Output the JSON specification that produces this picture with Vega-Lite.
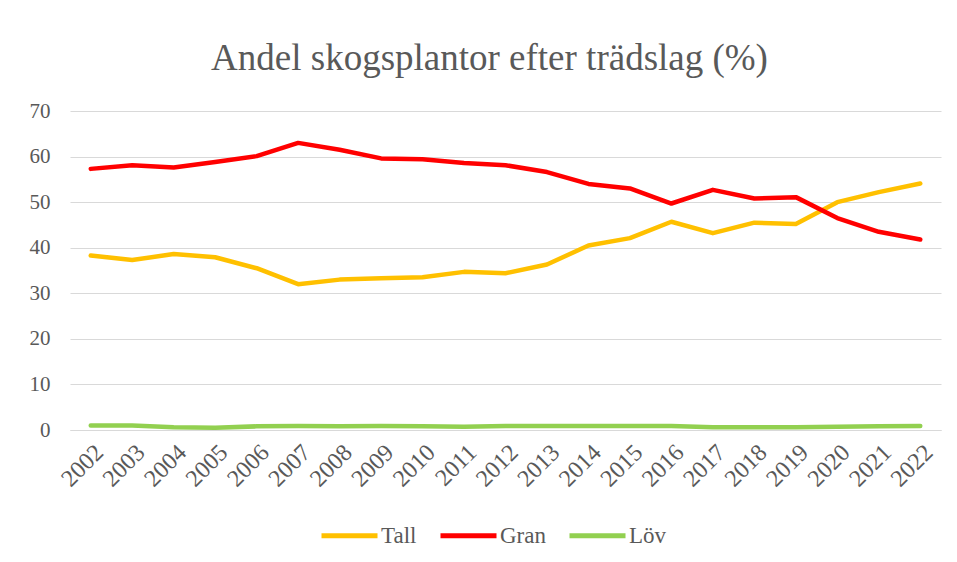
{
  "$schema": "https://vega.github.io/schema/vega-lite/v6.json",
  "width": 871,
  "height": 319,
  "autosize": {"type": "none"},
  "padding": {"left": 70, "top": 111, "right": 16, "bottom": 132},
  "background": "white",
  "title": {
    "text": "Andel skogsplantor efter trädslag (%)",
    "font": "Liberation Serif",
    "fontSize": 37,
    "fontWeight": "normal",
    "color": "#595959",
    "anchor": "middle",
    "offset": 22,
    "dx": -16
  },
  "data": {
    "values": [
      {"year": "2002", "serie": "Tall", "value": 38.3}, {"year": "2003", "serie": "Tall", "value": 37.3}, {"year": "2004", "serie": "Tall", "value": 38.6}, {"year": "2005", "serie": "Tall", "value": 37.9}, {"year": "2006", "serie": "Tall", "value": 35.5}, {"year": "2007", "serie": "Tall", "value": 32.0}, {"year": "2008", "serie": "Tall", "value": 33.0}, {"year": "2009", "serie": "Tall", "value": 33.3}, {"year": "2010", "serie": "Tall", "value": 33.5}, {"year": "2011", "serie": "Tall", "value": 34.7}, {"year": "2012", "serie": "Tall", "value": 34.4}, {"year": "2013", "serie": "Tall", "value": 36.3}, {"year": "2014", "serie": "Tall", "value": 40.5}, {"year": "2015", "serie": "Tall", "value": 42.1}, {"year": "2016", "serie": "Tall", "value": 45.7}, {"year": "2017", "serie": "Tall", "value": 43.2}, {"year": "2018", "serie": "Tall", "value": 45.5}, {"year": "2019", "serie": "Tall", "value": 45.2}, {"year": "2020", "serie": "Tall", "value": 50.0}, {"year": "2021", "serie": "Tall", "value": 52.2}, {"year": "2022", "serie": "Tall", "value": 54.1},
      {"year": "2002", "serie": "Gran", "value": 57.3}, {"year": "2003", "serie": "Gran", "value": 58.1}, {"year": "2004", "serie": "Gran", "value": 57.6}, {"year": "2005", "serie": "Gran", "value": 58.8}, {"year": "2006", "serie": "Gran", "value": 60.1}, {"year": "2007", "serie": "Gran", "value": 63.0}, {"year": "2008", "serie": "Gran", "value": 61.5}, {"year": "2009", "serie": "Gran", "value": 59.6}, {"year": "2010", "serie": "Gran", "value": 59.4}, {"year": "2011", "serie": "Gran", "value": 58.6}, {"year": "2012", "serie": "Gran", "value": 58.1}, {"year": "2013", "serie": "Gran", "value": 56.6}, {"year": "2014", "serie": "Gran", "value": 54.0}, {"year": "2015", "serie": "Gran", "value": 53.0}, {"year": "2016", "serie": "Gran", "value": 49.7}, {"year": "2017", "serie": "Gran", "value": 52.7}, {"year": "2018", "serie": "Gran", "value": 50.8}, {"year": "2019", "serie": "Gran", "value": 51.1}, {"year": "2020", "serie": "Gran", "value": 46.5}, {"year": "2021", "serie": "Gran", "value": 43.5}, {"year": "2022", "serie": "Gran", "value": 41.8},
      {"year": "2002", "serie": "Löv", "value": 1.0}, {"year": "2003", "serie": "Löv", "value": 1.0}, {"year": "2004", "serie": "Löv", "value": 0.6}, {"year": "2005", "serie": "Löv", "value": 0.5}, {"year": "2006", "serie": "Löv", "value": 0.8}, {"year": "2007", "serie": "Löv", "value": 0.9}, {"year": "2008", "serie": "Löv", "value": 0.8}, {"year": "2009", "serie": "Löv", "value": 0.9}, {"year": "2010", "serie": "Löv", "value": 0.8}, {"year": "2011", "serie": "Löv", "value": 0.7}, {"year": "2012", "serie": "Löv", "value": 0.9}, {"year": "2013", "serie": "Löv", "value": 0.9}, {"year": "2014", "serie": "Löv", "value": 0.9}, {"year": "2015", "serie": "Löv", "value": 0.9}, {"year": "2016", "serie": "Löv", "value": 0.9}, {"year": "2017", "serie": "Löv", "value": 0.6}, {"year": "2018", "serie": "Löv", "value": 0.6}, {"year": "2019", "serie": "Löv", "value": 0.6}, {"year": "2020", "serie": "Löv", "value": 0.7}, {"year": "2021", "serie": "Löv", "value": 0.8}, {"year": "2022", "serie": "Löv", "value": 0.9}
    ]
  },
  "mark": {"type": "line", "strokeWidth": 4.5, "strokeCap": "round", "strokeJoin": "round"},
  "encoding": {
    "x": {
      "field": "year",
      "type": "ordinal",
      "scale": {"type": "point", "padding": 0.5},
      "axis": {
        "title": null,
        "labelAngle": -45,
        "labelFont": "Liberation Serif",
        "labelFontSize": 24,
        "labelColor": "#595959",
        "labelPadding": 10,
        "domain": true,
        "domainColor": "#d9d9d9",
        "domainWidth": 1,
        "ticks": false,
        "grid": false
      }
    },
    "y": {
      "field": "value",
      "type": "quantitative",
      "scale": {"domain": [0, 70]},
      "axis": {
        "title": null,
        "values": [0, 10, 20, 30, 40, 50, 60, 70],
        "labelFont": "Liberation Serif",
        "labelFontSize": 21,
        "labelColor": "#595959",
        "labelPadding": 20,
        "domain": false,
        "ticks": false,
        "grid": true,
        "gridColor": "#d9d9d9",
        "gridWidth": 1.2
      }
    },
    "color": {
      "field": "serie",
      "type": "nominal",
      "sort": ["Tall", "Gran", "Löv"],
      "scale": {"domain": ["Tall", "Gran", "Löv"], "range": ["#FFC000", "#FF0000", "#92D050"]},
      "legend": {
        "title": null,
        "orient": "none",
        "legendX": 249,
        "legendY": 394,
        "direction": "horizontal",
        "symbolType": "stroke",
        "symbolStrokeWidth": 5,
        "symbolSize": 3136,
        "labelFont": "Liberation Serif",
        "labelFontSize": 23,
        "labelColor": "#595959",
        "labelOffset": 1,
        "columnPadding": 13,
        "labelLimit": 200
      }
    }
  },
  "config": {
    "font": "Liberation Serif",
    "view": {"stroke": null},
    "legend": {"labelFont": "Liberation Serif"}
  }
}
